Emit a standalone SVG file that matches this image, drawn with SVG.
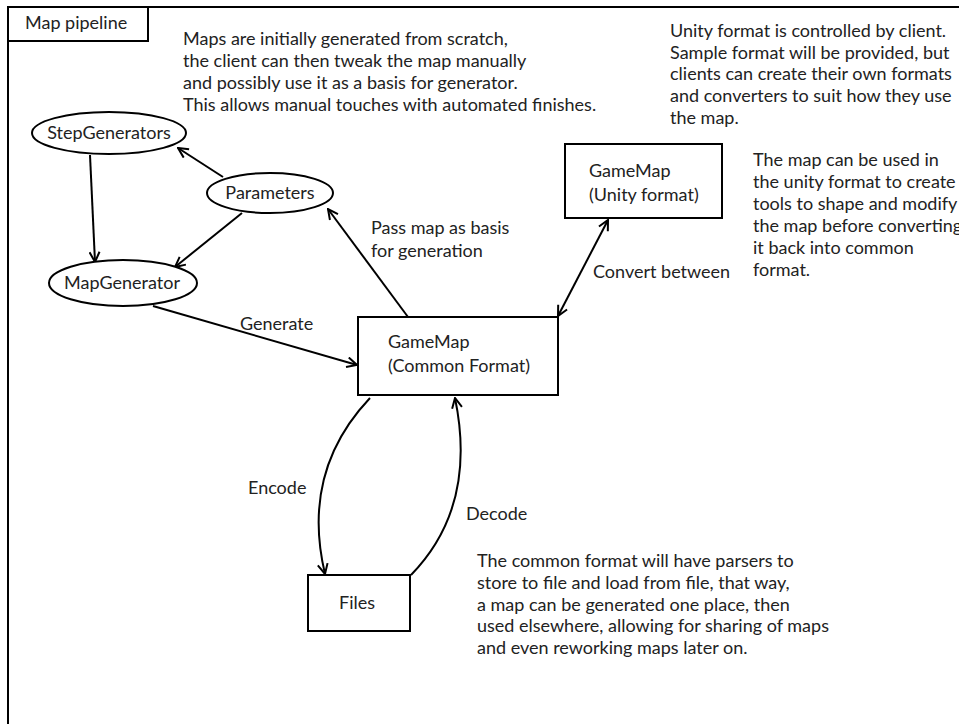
<svg xmlns="http://www.w3.org/2000/svg" width="959" height="724" viewBox="0 0 959 724">
<style>
text{font-family:Lato,"Liberation Sans",sans-serif;font-size:18px;fill:#222}
.shape{fill:#fff;stroke:#000;stroke-width:2}
.edge{fill:none;stroke:#000;stroke-width:2}
.mid{text-anchor:middle}
</style>
<defs>
<marker id="arr" viewBox="0 0 12 12" refX="11" refY="6" markerWidth="12" markerHeight="12" markerUnits="userSpaceOnUse" orient="auto-start-reverse">
<path d="M1,1 L11,6 L1,11" fill="none" stroke="#000" stroke-width="2"/>
</marker>
</defs>
<rect x="0" y="0" width="959" height="724" fill="#fff"/>
<g id="frame">
<rect x="8" y="7" width="970" height="740" fill="#fff" stroke="#000" stroke-width="2"/>
<rect x="8" y="7" width="140" height="34" fill="#fff" stroke="#000" stroke-width="2"/>
<text x="25" y="29">Map pipeline</text>
</g>
<g id="notes">
<text x="183" y="45">Maps are initially generated from scratch,</text>
<text x="183" y="67">the client can then tweak the map manually</text>
<text x="183" y="89">and possibly use it as a basis for generator.</text>
<text x="183" y="111">This allows manual touches with automated finishes.</text>
<text x="670" y="37">Unity format is controlled by client.</text>
<text x="670" y="59">Sample format will be provided, but</text>
<text x="670" y="80">clients can create their own formats</text>
<text x="670" y="102">and converters to suit how they use</text>
<text x="670" y="124">the map.</text>
<text x="753" y="166">The map can be used in</text>
<text x="753" y="188">the unity format to create</text>
<text x="753" y="210">tools to shape and modify</text>
<text x="753" y="232">the map before converting</text>
<text x="753" y="254">it back into common</text>
<text x="753" y="276">format.</text>
<text x="477" y="567">The common format will have parsers to</text>
<text x="477" y="589">store to file and load from file, that way,</text>
<text x="477" y="611">a map can be generated one place, then</text>
<text x="477" y="632">used elsewhere, allowing for sharing of maps</text>
<text x="477" y="654">and even reworking maps later on.</text>
</g>
<g id="connectors">
<line class="edge" x1="90" y1="155" x2="95" y2="262" marker-end="url(#arr)"/>
<line class="edge" x1="223" y1="177" x2="178" y2="148" marker-end="url(#arr)"/>
<line class="edge" x1="242" y1="213" x2="175" y2="267" marker-end="url(#arr)"/>
<line class="edge" x1="153" y1="306" x2="357" y2="365" marker-end="url(#arr)"/>
<line class="edge" x1="408" y1="317" x2="328" y2="209" marker-end="url(#arr)"/>
<line class="edge" x1="558" y1="316" x2="608" y2="220" marker-start="url(#arr)" marker-end="url(#arr)"/>
<path class="edge" d="M370,398 C335,435 305,490 325,574" marker-end="url(#arr)"/>
<path class="edge" d="M411,575 C450,535 472,480 455,398" marker-end="url(#arr)"/>
<text x="240" y="330">Generate</text>
<text x="371" y="234">Pass map as basis</text>
<text x="371" y="257">for generation</text>
<text x="593" y="278">Convert between</text>
<text x="248" y="494">Encode</text>
<text x="466" y="520">Decode</text>
</g>
<g id="StepGenerators">
<ellipse class="shape" cx="109" cy="133" rx="77" ry="21"/>
<text class="mid" x="109" y="139">StepGenerators</text>
</g>
<g id="Parameters">
<ellipse class="shape" cx="270" cy="193" rx="63" ry="20"/>
<text class="mid" x="270" y="199">Parameters</text>
</g>
<g id="MapGenerator">
<ellipse class="shape" cx="123" cy="283" rx="74" ry="23"/>
<text class="mid" x="122" y="289">MapGenerator</text>
</g>
<g id="GameMapCommon">
<rect class="shape" x="358" y="317" width="200" height="78"/>
<text x="388" y="348">GameMap</text>
<text x="388" y="372">(Common Format)</text>
</g>
<g id="GameMapUnity">
<rect class="shape" x="565" y="144" width="157" height="74"/>
<text x="589" y="177">GameMap</text>
<text x="589" y="201">(Unity format)</text>
</g>
<g id="Files">
<rect class="shape" x="308" y="575" width="102" height="56"/>
<text class="mid" x="357" y="609">Files</text>
</g>
</svg>
